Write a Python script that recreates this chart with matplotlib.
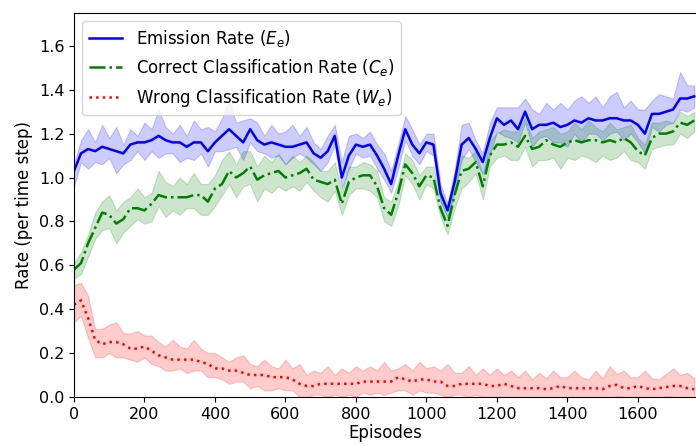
import numpy as np
import matplotlib
matplotlib.use("Agg")
import matplotlib.pyplot as plt

episodes = np.arange(0, 1761, 20)

# mean curves
emission = [
    1.03, 1.11, 1.13, 1.12, 1.14, 1.13, 1.12, 1.11, 1.15, 1.16,
    1.16, 1.17, 1.19, 1.17, 1.16, 1.16, 1.14, 1.16, 1.16, 1.12,
    1.16, 1.19, 1.22, 1.19, 1.16, 1.22, 1.17, 1.15, 1.16, 1.15,
    1.14, 1.14, 1.15, 1.16, 1.11, 1.09, 1.12, 1.19, 1.00, 1.10,
    1.15, 1.14, 1.15, 1.10, 1.04, 0.97, 1.10, 1.22, 1.15, 1.11,
    1.16, 1.15, 0.93, 0.85, 0.98, 1.15, 1.18, 1.13, 1.07, 1.18,
    1.27, 1.24, 1.26, 1.22, 1.30, 1.22, 1.24, 1.24, 1.25, 1.23,
    1.24, 1.26, 1.25, 1.27, 1.26, 1.26, 1.27, 1.27, 1.26, 1.26,
    1.24, 1.20, 1.29, 1.29, 1.30, 1.31, 1.36, 1.36, 1.37]
correct = [
    0.58, 0.61, 0.70, 0.77, 0.84, 0.83, 0.79, 0.81, 0.86, 0.86,
    0.85, 0.88, 0.92, 0.91, 0.91, 0.91, 0.91, 0.92, 0.92, 0.89,
    0.95, 0.97, 1.03, 1.00, 1.02, 1.05, 0.99, 1.01, 1.02, 1.03,
    1.00, 1.01, 1.02, 1.04, 0.99, 0.98, 0.97, 0.99, 0.88, 0.98,
    1.00, 1.01, 1.01, 0.96, 0.86, 0.83, 0.93, 1.06, 1.02, 0.96,
    1.01, 1.00, 0.86, 0.78, 0.92, 1.03, 1.04, 1.07, 0.96, 1.10,
    1.15, 1.15, 1.16, 1.14, 1.19, 1.13, 1.14, 1.17, 1.15, 1.14,
    1.16, 1.17, 1.16, 1.17, 1.17, 1.16, 1.17, 1.16, 1.18, 1.16,
    1.12, 1.10, 1.18, 1.20, 1.20, 1.21, 1.25, 1.24, 1.26]
wrong = [
    0.42, 0.44, 0.36, 0.26, 0.24, 0.25, 0.25, 0.24, 0.22, 0.22,
    0.23, 0.21, 0.19, 0.18, 0.17, 0.17, 0.17, 0.17, 0.16, 0.15,
    0.13, 0.13, 0.12, 0.12, 0.11, 0.10, 0.10, 0.10, 0.09, 0.09,
    0.09, 0.08, 0.06, 0.05, 0.05, 0.06, 0.06, 0.06, 0.06, 0.06,
    0.06, 0.07, 0.07, 0.07, 0.07, 0.07, 0.09, 0.08, 0.07, 0.08,
    0.08, 0.07, 0.07, 0.05, 0.05, 0.06, 0.06, 0.06, 0.06, 0.05,
    0.05, 0.06, 0.05, 0.04, 0.04, 0.04, 0.04, 0.035, 0.04, 0.05,
    0.04, 0.04, 0.04, 0.04, 0.04, 0.035, 0.05, 0.055, 0.04, 0.04,
    0.05, 0.04, 0.035, 0.04, 0.045, 0.05, 0.05, 0.04, 0.035]

# spread above / below the mean
emission_hi = [
    0.03, 0.06, 0.09, 0.04, 0.10, 0.05, 0.11, 0.04, 0.07, 0.03,
    0.09, 0.05, 0.12, 0.06, 0.04, 0.08, 0.05, 0.10, 0.06, 0.11,
    0.05, 0.08, 0.13, 0.06, 0.10, 0.05, 0.08, 0.04, 0.08, 0.05,
    0.07, 0.10, 0.04, 0.07, 0.05, 0.04, 0.07, 0.05, 0.07, 0.09,
    0.05, 0.04, 0.06, 0.05, 0.07, 0.06, 0.05, 0.06, 0.07, 0.04,
    0.04, 0.05, 0.04, 0.03, 0.05, 0.09, 0.07, 0.04, 0.04, 0.07,
    0.05, 0.08, 0.06, 0.10, 0.06, 0.09, 0.05, 0.10, 0.06, 0.11,
    0.07, 0.09, 0.12, 0.07, 0.11, 0.06, 0.10, 0.12, 0.06, 0.09,
    0.07, 0.11, 0.06, 0.09, 0.07, 0.05, 0.12, 0.06, 0.05]
emission_lo = [
    0.07, 0.04, 0.09, 0.05, 0.08, 0.04, 0.10, 0.05, 0.07, 0.04,
    0.08, 0.05, 0.10, 0.06, 0.05, 0.09, 0.05, 0.08, 0.05, 0.07,
    0.04, 0.07, 0.09, 0.05, 0.08, 0.06, 0.05, 0.04, 0.07, 0.05,
    0.08, 0.05, 0.04, 0.07, 0.05, 0.06, 0.05, 0.04, 0.05, 0.06,
    0.04, 0.05, 0.05, 0.06, 0.05, 0.04, 0.06, 0.05, 0.05, 0.05,
    0.04, 0.05, 0.04, 0.03, 0.05, 0.07, 0.05, 0.06, 0.05, 0.08,
    0.06, 0.05, 0.08, 0.06, 0.05, 0.08, 0.06, 0.05, 0.09, 0.07,
    0.10, 0.06, 0.09, 0.07, 0.06, 0.09, 0.07, 0.06, 0.09, 0.06,
    0.08, 0.09, 0.06, 0.08, 0.06, 0.06, 0.05, 0.06, 0.05]
correct_hi = [
    0.03, 0.05, 0.04, 0.07, 0.05, 0.09, 0.06, 0.08, 0.05, 0.09,
    0.06, 0.05, 0.11, 0.07, 0.05, 0.09, 0.06, 0.10, 0.05, 0.08,
    0.06, 0.11, 0.09, 0.06, 0.10, 0.07, 0.06, 0.09, 0.05, 0.08,
    0.06, 0.09, 0.05, 0.06, 0.08, 0.05, 0.06, 0.08, 0.05, 0.07,
    0.05, 0.06, 0.05, 0.07, 0.05, 0.06, 0.05, 0.05, 0.06, 0.05,
    0.04, 0.05, 0.04, 0.04, 0.05, 0.07, 0.05, 0.05, 0.05, 0.07,
    0.05, 0.07, 0.05, 0.07, 0.08, 0.05, 0.07, 0.05, 0.08, 0.06,
    0.05, 0.08, 0.06, 0.09, 0.06, 0.05, 0.08, 0.06, 0.05, 0.08,
    0.06, 0.05, 0.07, 0.05, 0.06, 0.04, 0.05, 0.04, 0.04]
correct_lo = [
    0.04, 0.05, 0.06, 0.05, 0.08, 0.06, 0.09, 0.06, 0.08, 0.05,
    0.06, 0.08, 0.05, 0.09, 0.06, 0.08, 0.05, 0.06, 0.09, 0.06,
    0.08, 0.05, 0.06, 0.09, 0.06, 0.08, 0.10, 0.06, 0.09, 0.07,
    0.06, 0.05, 0.08, 0.06, 0.05, 0.07, 0.08, 0.05, 0.05, 0.06,
    0.05, 0.06, 0.07, 0.05, 0.06, 0.05, 0.06, 0.05, 0.05, 0.06,
    0.04, 0.05, 0.04, 0.04, 0.06, 0.08, 0.06, 0.05, 0.06, 0.05,
    0.06, 0.05, 0.08, 0.06, 0.05, 0.08, 0.06, 0.09, 0.06, 0.10,
    0.07, 0.09, 0.06, 0.08, 0.10, 0.06, 0.09, 0.07, 0.06, 0.08,
    0.05, 0.06, 0.05, 0.06, 0.05, 0.06, 0.05, 0.06, 0.05]
wrong_hi = [
    0.09, 0.08, 0.10, 0.05, 0.07, 0.08, 0.09, 0.05, 0.07, 0.08,
    0.05, 0.07, 0.06, 0.05, 0.09, 0.06, 0.05, 0.09, 0.06, 0.05,
    0.07, 0.05, 0.04, 0.06, 0.08, 0.05, 0.04, 0.07, 0.05, 0.04,
    0.08, 0.05, 0.09, 0.05, 0.07, 0.05, 0.08, 0.04, 0.07, 0.05,
    0.08, 0.05, 0.07, 0.05, 0.09, 0.05, 0.04, 0.07, 0.05, 0.08,
    0.05, 0.07, 0.05, 0.10, 0.06, 0.05, 0.08, 0.04, 0.07, 0.05,
    0.08, 0.04, 0.07, 0.05, 0.08, 0.04, 0.07, 0.05, 0.08, 0.04,
    0.05, 0.08, 0.05, 0.04, 0.08, 0.05, 0.09, 0.05, 0.08, 0.05,
    0.04, 0.08, 0.05, 0.04, 0.06, 0.08, 0.05, 0.07, 0.05]
wrong_lo = [
    0.08, 0.07, 0.09, 0.08, 0.06, 0.05, 0.07, 0.06, 0.05, 0.06,
    0.05, 0.06, 0.05, 0.06, 0.05, 0.04, 0.06, 0.05, 0.04, 0.06,
    0.04, 0.05, 0.06, 0.05, 0.04, 0.06, 0.05, 0.07, 0.06, 0.05,
    0.06, 0.05, 0.06, 0.05, 0.04, 0.05, 0.06, 0.05, 0.06, 0.05,
    0.06, 0.05, 0.06, 0.05, 0.06, 0.05, 0.06, 0.05, 0.06, 0.05,
    0.06, 0.05, 0.06, 0.05, 0.04, 0.05, 0.06, 0.05, 0.06, 0.05,
    0.05, 0.06, 0.05, 0.04, 0.05, 0.04, 0.05, 0.04, 0.05, 0.06,
    0.05, 0.04, 0.05, 0.04, 0.05, 0.04, 0.06, 0.05, 0.04, 0.05,
    0.06, 0.05, 0.04, 0.05, 0.04, 0.05, 0.06, 0.05, 0.04]

fig = plt.figure(figsize=(6.96, 4.46), dpi=100)
ax = fig.add_axes([0.1063, 0.11, 0.8937, 0.861])

series = [
    (emission, emission_lo, emission_hi, "b", "-", r"Emission Rate ($E_e$)"),
    (correct, correct_lo, correct_hi, "g", "-.", r"Correct Classification Rate ($C_e$)"),
    (wrong, wrong_lo, wrong_hi, "r", ":", r"Wrong Classification Rate ($W_e$)"),
]
for mean, lo, hi, col, ls, lab in series:
    mean = np.array(mean)
    ax.fill_between(episodes, mean - np.array(lo), mean + np.array(hi),
                    color=col, alpha=0.2, linewidth=0.8)
    ax.plot(episodes, mean, color=col, linestyle=ls, linewidth=1.8, label=lab)

ax.set_xlim(0, 1765)
ax.set_ylim(0, 1.75)
ax.set_xticks(range(0, 1601, 200))
ax.set_yticks(np.arange(0, 1.61, 0.2))
ax.tick_params(labelsize=11.5)
ax.spines["right"].set_visible(False)
ax.set_xlabel("Episodes", fontsize=12, labelpad=2)
ax.set_ylabel("Rate (per time step)", fontsize=12)
ax.legend(loc="upper left", fontsize=12)

fig.savefig("out.png", dpi=100)
